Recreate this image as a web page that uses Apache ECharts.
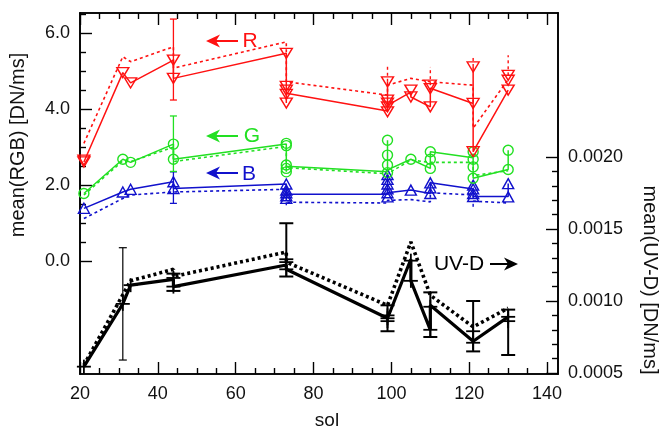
<!DOCTYPE html>
<html>
<head>
<meta charset="utf-8">
<script src="https://cdn.jsdelivr.net/npm/echarts@6/dist/echarts.min.js"></script>
<style>
  html, body { margin: 0; padding: 0; background: #fff; }
  #chart { width: 663px; height: 433px; }
</style>
</head>
<body>
<div id="chart"></div>
<script>
// ---- axis ticks ----
const solTicks = [20, 40, 60, 80, 100, 120, 140];
const solMinorTicks = [25, 30, 35, 45, 50, 55, 65, 70, 75, 85, 90, 95, 105, 110, 115, 125, 130, 135];
const rgbTicks = [0, 2, 4, 6];
const rgbMinorTicks = [0.5, 1, 1.5, 2.5, 3, 3.5, 4.5, 5, 5.5, 6.5];
const uvTicks = [0.0005, 0.0010, 0.0015, 0.0020];
const uvMinorTicks = [0.0006, 0.0007, 0.0008, 0.0009, 0.0011, 0.0012, 0.0013, 0.0014,
                      0.0016, 0.0017, 0.0018, 0.0019];

// ---- R channel [sol, DN/ms] ----
const redLine = [[21, 2.61], [31, 4.96], [33, 4.69], [44, 5.29], [44, 4.81], [73, 5.47], [73, 4.16], [73, 4.42],
  [99, 3.95], [99, 4.72], [99, 4.1], [105, 4.45], [105, 4.32], [110, 4.06], [110, 4.55],
  [121, 4.15], [121, 5.11], [121, 2.88], [130, 4.5]];
const redDotted = [[21, 3.1], [31, 5.38], [33, 5.25], [44, 5.64], [44, 5.08], [73, 5.77], [73, 4.72],
  [99, 4.37], [99, 4.63], [105, 4.81], [110, 4.72], [121, 4.63], [121, 3.5], [130, 4.78]];
const redMarks = [[21, 2.61], [21, 2.66], [31, 4.96], [33, 4.69], [44, 5.29], [44, 4.81],
  [73, 5.47], [73, 4.6], [73, 4.5], [73, 4.39], [73, 4.16],
  [99, 4.72], [99, 4.24], [99, 4.16], [99, 4.06], [99, 3.93], [105, 4.5], [105, 4.32],
  [110, 4.63], [110, 4.54], [110, 4.06], [121, 5.11], [121, 4.15], [121, 2.88],
  [130, 4.89], [130, 4.76], [130, 4.5]];
const redErr = [[44, 4.24, 6.37]];
const redDottedErr = [[99, 4.72, 5.16], [110, 4.63, 5.11], [121, 5.11, 5.42], [130, 4.89, 5.42]];

// ---- G channel ----
const greenLine = [[21, 1.78], [31, 2.68], [33, 2.6], [44, 3.08], [44, 2.68], [73, 3.08], [73, 2.35], [73, 2.5],
  [99, 2.35], [99, 3.18], [99, 2.4], [105, 2.68], [110, 2.44], [110, 2.88], [121, 2.72], [121, 2.18],
  [130, 2.41], [130, 2.92]];
const greenDotted = [[21, 1.74], [31, 2.64], [33, 2.62], [44, 3.0], [44, 2.62], [73, 3.02], [73, 2.46],
  [99, 2.3], [105, 2.66], [110, 2.6], [121, 2.6], [121, 2.25], [130, 2.38]];
const greenMarks = [[21, 1.78], [31, 2.68], [33, 2.6], [44, 3.08], [44, 2.68],
  [73, 3.1], [73, 3.04], [73, 2.53], [73, 2.44], [73, 2.35],
  [99, 3.18], [99, 2.79], [99, 2.53], [99, 2.33], [105, 2.68],
  [110, 2.88], [110, 2.68], [110, 2.44], [121, 2.88], [121, 2.68], [121, 2.48], [121, 2.18],
  [130, 2.92], [130, 2.41]];
const greenErr = [[44, 2.36, 3.82]];

// ---- B channel ----
const blueLine = [[21, 1.39], [31, 1.82], [33, 1.89], [44, 2.09], [44, 1.91], [73, 2.03], [73, 1.65], [73, 1.76],
  [99, 1.76], [99, 2.28], [99, 1.8], [105, 1.87], [110, 1.78], [110, 2.06], [121, 1.9], [121, 1.7],
  [130, 1.7], [130, 2.04]];
const blueDotted = [[21, 1.12], [31, 1.65], [33, 1.74], [44, 1.82], [73, 1.89], [73, 1.55], [99, 1.53],
  [99, 1.6], [105, 1.62], [110, 1.56], [110, 1.8], [121, 1.74], [121, 1.58], [130, 1.53]];
const blueMarks = [[21, 1.39], [31, 1.82], [33, 1.89], [44, 2.09], [44, 1.91],
  [73, 2.03], [73, 1.87], [73, 1.8], [73, 1.72], [73, 1.65],
  [99, 2.28], [99, 2.15], [99, 2.03], [99, 1.9], [99, 1.8], [99, 1.69], [105, 1.87],
  [110, 2.06], [110, 1.93], [110, 1.78], [121, 2.0], [121, 1.9], [121, 1.78], [121, 1.7],
  [130, 2.04], [130, 1.69]];
const blueErr = [[44, 1.52, 2.35]];
const blueDottedErr = [[73, 1.47, 1.55], [121, 1.43, 1.58]];

// ---- UV-D channel (right axis) ----
const uvLine = [[21, 0.000544], [31, 0.00098], [33, 0.00111], [44, 0.00115], [44, 0.0011], [73, 0.00125],
  [73, 0.00122], [99, 0.00088], [105, 0.00129], [105, 0.00114], [110, 0.0008], [110, 0.00097],
  [121, 0.00072], [130, 0.00089]];
const uvDotted = [[21, 0.000555], [33, 0.00114], [44, 0.00122], [44, 0.00117], [73, 0.00134], [73, 0.00127],
  [99, 0.00097], [105, 0.00141], [110, 0.00104], [121, 0.00082], [130, 0.00095]];
const uvMarks = [[21, 0.000544], [31, 0.00098], [33, 0.00111], [44, 0.00116], [44, 0.0011],
  [73, 0.00129], [73, 0.00127], [73, 0.00122], [99, 0.0009], [99, 0.00088], [99, 0.00086],
  [105, 0.00128], [105, 0.00114], [110, 0.00096], [110, 0.0008], [121, 0.00079], [121, 0.00071],
  [130, 0.00089], [130, 0.00086]];
const uvErr = [[44, 0.00107, 0.00119], [73, 0.00117, 0.00154], [99, 0.00079, 0.00097],
  [110, 0.00075, 0.00106], [121, 0.00065, 0.001], [130, 0.000625, 0.00094]];
const uvErrThin = [[31, 0.00059, 0.00137]];

const RED = '#ff1111', GREEN = '#22e022', BLUE = '#1111cc', BLACK = '#000';
const FONT = '"Liberation Sans", Arial, Helvetica, sans-serif';

const SOL_MIN = 20, SOL_MAX = 142.8;
const RGB_MIN = -2.97, RGB_MAX = 6.53;
const UV_MIN = 0.000493, UV_MAX = 0.003;

const chart = echarts.init(document.getElementById('chart'), null, { renderer: 'canvas' });

function errorBars(color, width, cap, dash) {
  return function (params, api) {
    const x = api.value(0);
    const a = api.coord([x, api.value(1)]);
    const b = api.coord([x, api.value(2)]);
    const style = { stroke: color, lineWidth: width, lineDash: dash || null };
    const kids = [{ type: 'line', shape: { x1: a[0], y1: a[1], x2: b[0], y2: b[1] }, style }];
    if (cap) {
      kids.push({ type: 'line', shape: { x1: a[0] - cap, y1: a[1], x2: a[0] + cap, y2: a[1] }, style });
      kids.push({ type: 'line', shape: { x1: b[0] - cap, y1: b[1], x2: b[0] + cap, y2: b[1] }, style });
    }
    return { type: 'group', children: kids };
  };
}

function plusMarks(color, half, width) {
  return function (params, api) {
    const p = api.coord([api.value(0), api.value(1)]);
    const style = { stroke: color, lineWidth: width };
    return {
      type: 'group', children: [
        { type: 'line', shape: { x1: p[0] - half, y1: p[1], x2: p[0] + half, y2: p[1] }, style },
        { type: 'line', shape: { x1: p[0], y1: p[1] - half, x2: p[0], y2: p[1] + half }, style }
      ]
    };
  };
}

function lineSeries(data, color, width, dash, yAxisIndex) {
  return {
    type: 'line', data, xAxisIndex: 0, yAxisIndex: yAxisIndex || 0,
    showSymbol: false, symbol: 'none', silent: true,
    lineStyle: { color, width, type: dash || 'solid', cap: 'butt' }
  };
}

function markSeries(data, color, symbol, size, rotate) {
  return {
    type: 'scatter', data, xAxisIndex: 0, yAxisIndex: 0, symbol, symbolSize: size,
    symbolRotate: rotate || 0, silent: true,
    itemStyle: { color: 'rgba(255,255,255,0)', borderColor: color, borderWidth: 1.4, opacity: 1 }
  };
}

function customSeries(data, render, yAxisIndex) {
  return {
    type: 'custom', data, xAxisIndex: 0, yAxisIndex: yAxisIndex || 0, silent: true,
    encode: { x: 0, y: [1, 2] }, renderItem: render
  };
}

const axisLineStyle = { color: BLACK, width: 1.6 };
const tickLineStyle = { color: BLACK, width: 1.4 };
const labelStyle = { color: '#111', fontSize: 18, fontFamily: FONT };

function xAxisDef(gridIndex, position, ticks, len, withLabels) {
  return {
    type: 'value', gridIndex, position, min: SOL_MIN, max: SOL_MAX,
    axisLine: { show: true, onZero: false, lineStyle: axisLineStyle },
    axisTick: { show: true, inside: true, length: len, customValues: ticks, lineStyle: tickLineStyle },
    axisLabel: withLabels ? Object.assign({ show: true, margin: 11, customValues: ticks }, labelStyle) : { show: false },
    splitLine: { show: false }
  };
}

function yAxisDef(gridIndex, position, min, max, ticks, len, labels, fmt) {
  return {
    type: 'value', gridIndex, position, min, max,
    axisLine: { show: true, onZero: false, lineStyle: axisLineStyle },
    axisTick: { show: !!ticks, inside: true, length: len, customValues: ticks || undefined, lineStyle: tickLineStyle },
    axisLabel: labels ? Object.assign({ show: true, margin: 10, customValues: ticks, formatter: fmt }, labelStyle) : { show: false },
    splitLine: { show: false }
  };
}

function arrow(x1, x2, y, color) {
  // tip sits at x1
  const d = x2 > x1 ? 1 : -1;
  return {
    type: 'group', silent: true, children: [
      { type: 'line', shape: { x1: x1 + d * 6, y1: y, x2, y2: y }, style: { stroke: color, lineWidth: 2 } },
      { type: 'polygon', shape: { points: [[x1, y], [x1 + d * 14, y - 6.5], [x1 + d * 10, y], [x1 + d * 14, y + 6.5]] },
        style: { fill: color } }
    ]
  };
}

function label(text, x, y, color, size, rotation) {
  return {
    type: 'text', x, y, rotation: rotation || 0, silent: true,
    style: { text, fill: color, font: `${size}px ${FONT}`, textAlign: 'center', textVerticalAlign: 'middle' }
  };
}

// the frame: one grid carries the data and labelled axes, the others only add minor / mirrored ticks
const frame = { left: 80, right: 105, top: 13, bottom: 59, containLabel: false };

const option = {
  animation: false,
  backgroundColor: '#fff',
  grid: [Object.assign({}, frame), Object.assign({}, frame), Object.assign({}, frame)],
  xAxis: [
    xAxisDef(0, 'bottom', solTicks, 12, true),
    xAxisDef(1, 'bottom', solMinorTicks, 6, false),
    xAxisDef(2, 'top', solTicks, 12, false),
    xAxisDef(1, 'top', solMinorTicks, 6, false)
  ],
  yAxis: [
    yAxisDef(0, 'left', RGB_MIN, RGB_MAX, rgbTicks, 12, true, v => v.toFixed(1)),
    yAxisDef(0, 'right', UV_MIN, UV_MAX, uvTicks, 12, true, v => v.toFixed(4)),
    yAxisDef(1, 'left', RGB_MIN, RGB_MAX, rgbMinorTicks, 6, false),
    yAxisDef(2, 'right', UV_MIN, UV_MAX, uvMinorTicks, 6, false)
  ],
  series: [
    // UV-D
    lineSeries(uvDotted, BLACK, 3.6, [3, 3], 1),
    lineSeries(uvLine, BLACK, 3.2, 'solid', 1),
    customSeries(uvErr, errorBars(BLACK, 2, 7), 1),
    customSeries(uvErrThin, errorBars(BLACK, 1.2, 4), 1),
    customSeries(uvMarks, plusMarks(BLACK, 7, 1.8), 1),
    // B
    lineSeries(blueDotted, BLUE, 1.6, [3, 3]),
    lineSeries(blueLine, BLUE, 1.5),
    customSeries(blueErr, errorBars(BLUE, 1.3, 3.5)),
    customSeries(blueDottedErr, errorBars(BLUE, 1.4, 0, [3, 3])),
    markSeries(blueMarks, BLUE, 'triangle', [11, 10]),
    // G
    lineSeries(greenDotted, GREEN, 1.6, [3, 3]),
    lineSeries(greenLine, GREEN, 1.5),
    customSeries(greenErr, errorBars(GREEN, 1.3, 3.5)),
    markSeries(greenMarks, GREEN, 'circle', 10),
    // R
    lineSeries(redDotted, RED, 1.6, [3, 3]),
    lineSeries(redLine, RED, 1.5),
    customSeries(redErr, errorBars(RED, 1.3, 3.5)),
    customSeries(redDottedErr, errorBars(RED, 1.4, 0, [3, 3])),
    markSeries(redMarks, RED, 'triangle', [12, 10], 180)
  ],
  graphic: [
    arrow(206, 238, 41, RED), label('R', 250, 41, RED, 21),
    arrow(206, 238, 136, GREEN), label('G', 252, 136, GREEN, 21),
    arrow(206, 238, 173, BLUE), label('B', 249, 174, BLUE, 21),
    label('UV-D', 459, 264, BLACK, 21), arrow(518, 490, 264, BLACK),
    label('sol', 327, 421, '#111', 19),
    label('mean(RGB) [DN/ms]', 18, 145, '#111', 20, Math.PI / 2),
    label('mean(UV-D) [DN/ms]', 650, 280, '#111', 20, -Math.PI / 2)
  ]
};

chart.setOption(option);
</script>
</body>
</html>
